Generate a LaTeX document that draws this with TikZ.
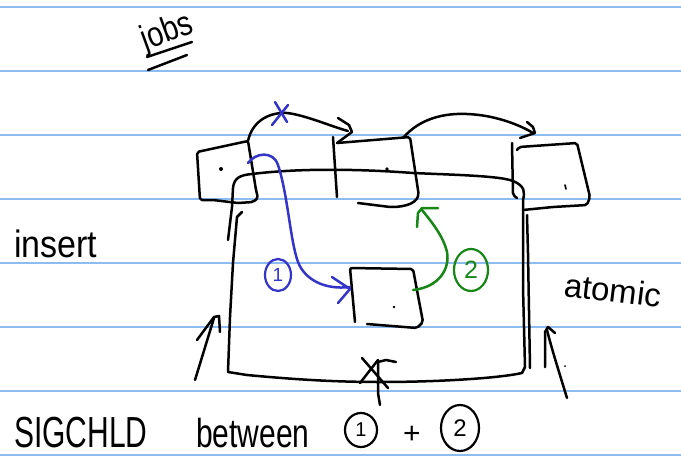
\documentclass[tikz,border=0pt]{standalone}
\usepackage{fontspec}
\setmainfont{Liberation Sans}
\usetikzlibrary{shapes.geometric}
\definecolor{rule}{RGB}{140,188,240}
\definecolor{inkblue}{RGB}{52,52,200}
\definecolor{inkgreen}{RGB}{22,135,22}
\begin{document}
\begin{tikzpicture}[x=1pt,y=-1pt,
  ink/.style={line width=2.5pt, line cap=round, line join=round},
  pen/.style={ink, draw=black},
  bluepen/.style={ink, draw=inkblue},
  greenpen/.style={ink, draw=inkgreen},
  hand/.style={inner sep=0pt, anchor=base west},
  tag/.style={ellipse, draw, line width=2.2pt, inner sep=0pt}
]
\useasboundingbox (0,0) rectangle (681,456);
\fill[white] (0,0) rectangle (681,456);
% ruled paper
\foreach \y in {7,71,...,455} \draw[rule, line width=1.8pt] (0,\y) -- (681,\y);

% heading
\node[inner sep=0pt, rotate=20, font=\fontsize{29}{29}\selectfont] (jobs) at (167,33) {\scalebox{1}[1.2]{jobs}};
\draw[pen] (147,57) -- (192,42);
\draw[pen] (148,70) -- (187,55);

% named points
\coordinate (n1ne) at (248,141);
\coordinate (n2nw) at (337,143);
\coordinate (n2ne) at (403,138);
\coordinate (n3nw) at (533,133);
\coordinate (n1in) at (248,163);
\coordinate (newW) at (350,287);
\coordinate (newE) at (413,290);
\coordinate (n2s) at (422,210);

% first list node
\draw[pen, rounded corners=2pt] (200,200) -- (197,152) -- (n1ne) -- (256,190) -- (258,198) -- (253,202) -- (238,203) -- (213,200) -- cycle;
\fill (221,169) circle (2pt);
% second list node
\draw[pen] (333,137) -- (337,197);
\draw[pen, rounded corners=2pt] (n2nw) -- (410,137) -- (418,190) .. controls (420,203) and (405,207) .. (390,207) -- (358,203);
\fill (387,169) circle (1.8pt);
% third list node
\draw[pen, rounded corners=2pt] (512,143) -- (513,195) -- (517,198);
\draw[pen, rounded corners=2pt] (517,150) -- (519,147) -- (577,143) -- (590,197) -- (587,205) -- (553,207) -- (523,210);
\draw[pen, line width=1.6pt] (565,185) -- (566,189);

% next links
\draw[pen] (n1ne) .. controls (252,122) and (268,112) .. (287,113) .. controls (305,115) and (330,126) .. (348,131);
\draw[pen] (338,118) -- (349,125) -- (352,132) -- (n2nw);
\draw[pen] (n2ne) .. controls (420,118) and (445,113) .. (467,114) .. controls (495,115) and (520,125) .. (n3nw);
\draw[pen] (527,122) -- (533,127) -- (535,133) -- (520,138);
% cancelled link
\draw[bluepen] (275,102) -- (287,122);
\draw[bluepen] (288,105) -- (272,125);

% critical region
\draw[pen] (228,240) -- (232,207) -- (233,188) .. controls (234,178) and (240,175) .. (252,174)
  .. controls (300,168) and (360,169) .. (413,173) .. controls (460,175) and (500,176) .. (513,181)
  .. controls (525,186) and (525,192) .. (523,200) -- (523,287) -- (525,367) -- (522,373);
\draw[pen] (242,212) -- (237,217) -- (233,263) -- (230,317) -- (228,372) -- (247,375)
  .. controls (300,380) and (340,382) .. (380,382) .. controls (440,382) and (500,378) .. (522,373);
\draw[pen] (527,215) -- (528,253) -- (530,368);

% new node
\draw[pen, rounded corners=2pt] (355,322) -- (350,268) -- (413,269) -- (423,322) -- (417,328) -- (367,324);
\fill (394,307) circle (1.4pt);

% step 1
\draw[bluepen] (n1in) .. controls (255,153) and (273,150) .. (278,165) .. controls (288,195) and (290,240) .. (298,262) .. controls (305,280) and (325,290) .. (newW);
\draw[bluepen] (332,277) -- (350,289) -- (338,303);
\node[tag, draw=inkblue, text=inkblue, minimum width=26pt, minimum height=32pt, font=\fontsize{19}{19}\selectfont] (s1) at (278,275) {1};
% step 2
\draw[greenpen] (newE) .. controls (440,287) and (450,268) .. (447,252) .. controls (443,235) and (430,220) .. (n2s);
\draw[greenpen] (417,227) -- (418,213) -- (422,208) -- (438,208);
\node[tag, draw=inkgreen, text=inkgreen, minimum width=34pt, minimum height=42pt, font=\fontsize{25}{25}\selectfont] (s2) at (471,270) {2};

% pointers at the region
\draw[pen] (195,380) -- (214,318);
\draw[pen] (197,340) -- (214,317) -- (219,316) -- (220,332);
\draw[pen] (567,398) .. controls (560,375) and (552,350) .. (547,330);
\draw[pen] (545,367) -- (545,332) -- (548,327) -- (555,333);
\fill (565,366) circle (1pt);
% blocked signal
\draw[pen] (378,361) -- (378,393) -- (380,405);
\draw[pen] (362,358) -- (388,388);
\draw[pen] (360,383) -- (378,360);
\draw[pen] (378,362) -- (386,360) -- (396,362);

% side notes
\node[hand, font=\fontsize{34}{34}\selectfont] (insert) at (14,257) {\scalebox{1}[1.12]{insert}};
\node[hand, rotate=-7, font=\fontsize{33}{33}\selectfont] (atomic) at (563,296) {atomic};
\node[hand, font=\fontsize{30}{30}\selectfont] (sig) at (14,447) {\scalebox{1}[1.45]{SIGCHLD}};
\node[hand, font=\fontsize{30}{30}\selectfont] (btw) at (196,447) {\scalebox{1}[1.35]{between}};
\node[tag, minimum width=32pt, minimum height=34pt, font=\fontsize{20}{20}\selectfont] (b1) at (361,430) {1};
\node[inner sep=0pt, font=\fontsize{30}{30}\selectfont] (plus) at (412,435) {+};
\node[tag, minimum width=38pt, minimum height=46pt, font=\fontsize{24}{24}\selectfont] (b2) at (460,428) {2};
\end{tikzpicture}
\end{document}
